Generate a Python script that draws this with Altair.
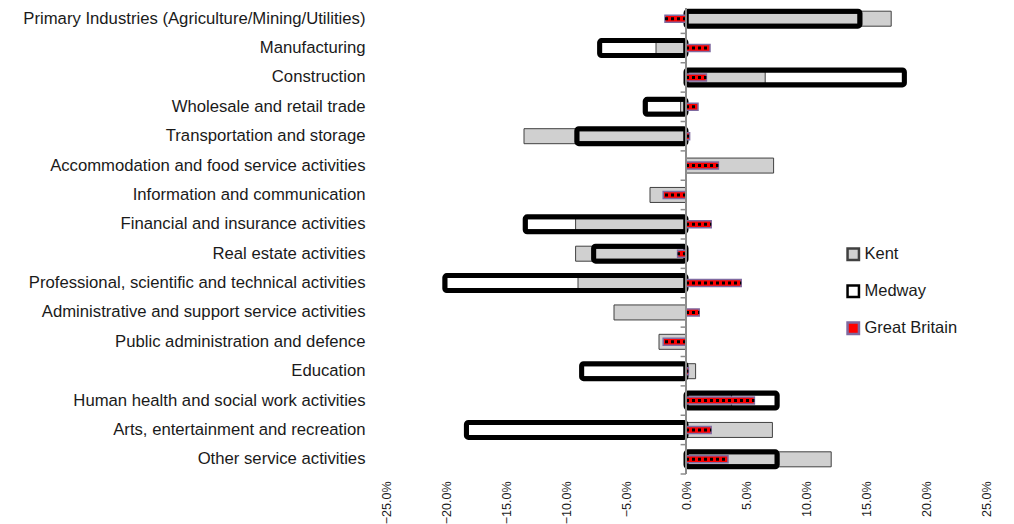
import altair as alt
import pandas as pd

cats = [
    "Primary Industries (Agriculture/Mining/Utilities)",
    "Manufacturing",
    "Construction",
    "Wholesale and retail trade",
    "Transportation and storage",
    "Accommodation and food service activities",
    "Information and communication",
    "Financial and insurance activities",
    "Real estate activities",
    "Professional, scientific and technical activities",
    "Administrative and support service activities",
    "Public administration and defence",
    "Education",
    "Human health and social work activities",
    "Arts, entertainment and recreation",
    "Other service activities",
]
kent = [17.1, -2.5, 6.6, -0.45, -13.5, 7.3, -3.0, -9.2, -9.2, -9.0, -6.0, -2.25, 0.8, 3.8, 7.2, 12.1]
medway = [14.5, -7.2, 18.2, -3.4, -9.1, None, None, -13.4, -7.7, -20.1, None, None, -8.7, 7.6, -18.3, 7.6]
gb = [-1.75, 2.0, 1.7, 1.0, 0.3, 2.7, -1.9, 2.1, -0.7, 4.6, 1.1, -1.9, 0.2, 5.7, 2.1, 3.5]
series = ["Kent", "Medway", "Great Britain"]
x_ticks = [-25, -20, -15, -10, -5, 0, 5, 10, 15, 20, 25]

rows = []
for name, vals in zip(series, [kent, medway, gb]):
    for c, v in zip(cats, vals):
        if v is not None:
            rows.append({"cat": c, "series": name, "value": v, "zero": 0.0})
df = pd.DataFrame(rows)
ticks_df = pd.DataFrame({"cat": cats, "a": [-0.45] * len(cats), "zero": [0.0] * len(cats)})
last_df = ticks_df.tail(1)

FONT = "Liberation Sans"
XS = alt.Scale(domain=[-25, 25], nice=False)

fill_scale = alt.Scale(domain=series, range=["#d0d0d0", "#ffffff", "#ff0000"])
stroke_scale = alt.Scale(domain=series, range=["#404040", "#000000", "#7f6aa0"])
legend = alt.Legend(title=None, orient="none", legendX=459, legendY=242,
                    symbolType="square", symbolSize=130, symbolStrokeWidth=2.5,
                    labelFont=FONT, labelFontSize=16.5, labelColor="#1a1a1a",
                    rowPadding=15, labelOffset=3)

xenc = alt.X("value:Q", scale=XS,
             axis=alt.Axis(values=x_ticks, labelExpr="format(datum.value, '.1f') + '%'",
                           labelAngle=270, grid=False, domain=False, ticks=False,
                           labelPadding=7, labelFont=FONT, labelFontSize=12.5,
                           labelColor="#1a1a1a", title=None))
yenc = alt.Y("cat:N", sort=cats,
             scale=alt.Scale(paddingInner=0, paddingOuter=0),
             axis=alt.Axis(title=None, ticks=False, domain=False, labelPadding=21,
                           labelLimit=600, labelFont=FONT, labelFontSize=16.7,
                           labelColor="#1a1a1a"))

base = alt.Chart(df)

kent_l = base.transform_filter(alt.datum.series == "Kent").mark_bar(
    size=15, strokeWidth=1).encode(
    x=xenc, y=yenc,
    fill=alt.Fill("series:N", scale=fill_scale, legend=legend),
    stroke=alt.Stroke("series:N", scale=stroke_scale, legend=legend))

med_l = base.transform_filter(alt.datum.series == "Medway").mark_bar(
    size=15, fillOpacity=0, strokeWidth=5, cornerRadius=2, strokeJoin="round").encode(
    x=xenc, y=yenc,
    stroke=alt.value("#000000"),
    strokeWidth=alt.value(5))

gb_l = base.transform_filter(alt.datum.series == "Great Britain").mark_bar(
    size=7, strokeWidth=1.5).encode(
    x=xenc, y=yenc,
    fill=alt.Fill("series:N", scale=fill_scale, legend=legend),
    stroke=alt.Stroke("series:N", scale=stroke_scale, legend=legend))

gb_dots = base.transform_filter(alt.datum.series == "Great Britain").mark_rule(
    strokeDash=[3, 3], strokeWidth=3, color="#000000").encode(
    x=alt.X("zero:Q", scale=XS, title=None), x2="value:Q", y=yenc)

zero_line = alt.Chart(ticks_df).mark_rule(color="#8c8c8c", strokeWidth=2).encode(
    x=alt.X("zero:Q", scale=XS, title=None))

tick_l = alt.Chart(ticks_df).mark_rule(color="#8c8c8c", strokeWidth=1.5).encode(
    y=alt.Y("cat:N", sort=cats, bandPosition=0),
    x=alt.X("a:Q", scale=XS, title=None), x2="zero:Q")
tick_last = alt.Chart(last_df).mark_rule(color="#8c8c8c", strokeWidth=1.5).encode(
    y=alt.Y("cat:N", sort=cats, bandPosition=1),
    x=alt.X("a:Q", scale=XS, title=None), x2="zero:Q")

chart = alt.layer(kent_l, med_l, gb_l, gb_dots, tick_l, tick_last, zero_line).properties(
    width=600, height=470, background="white",
    padding={"top": -5, "left": 14, "right": 0, "bottom": 0}
).configure_view(stroke=None)

chart.save("out.html", embed_options={"renderer": "svg", "actions": False})
